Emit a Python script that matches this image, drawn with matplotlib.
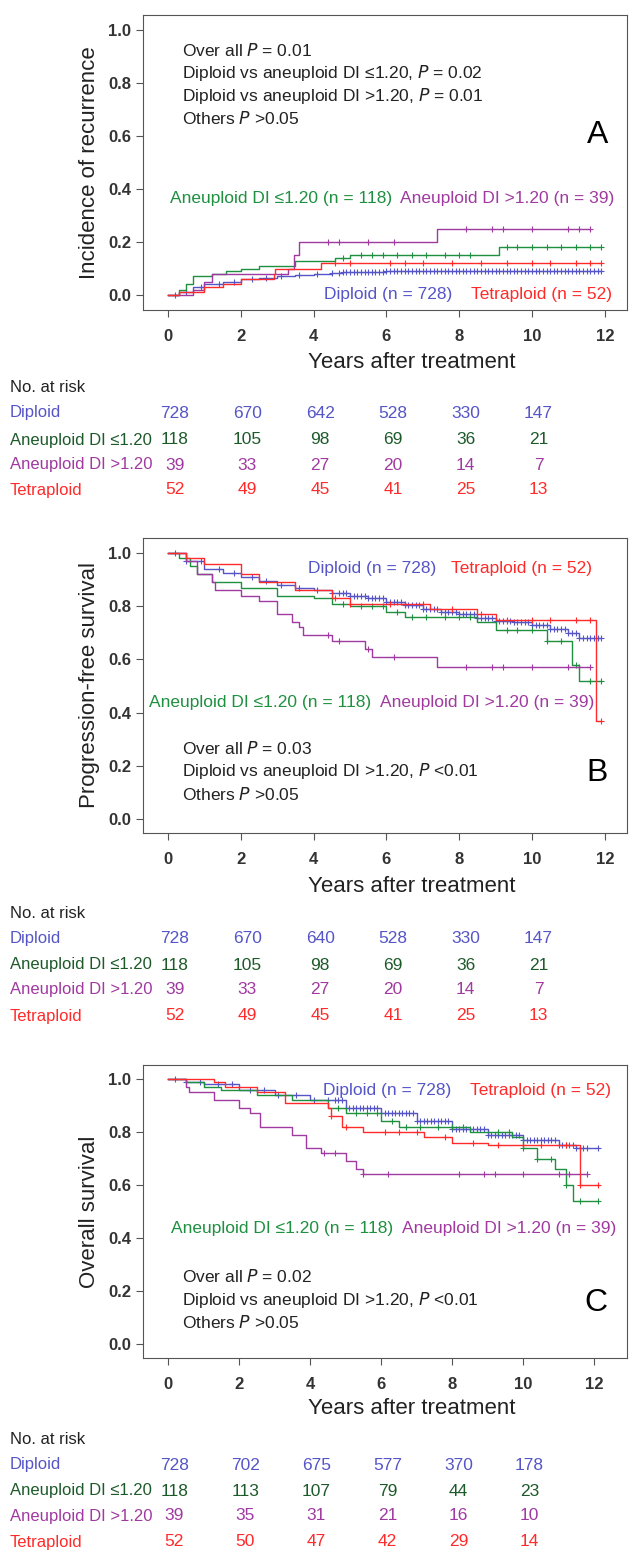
import numpy as np
import matplotlib
matplotlib.use('Agg')
import matplotlib.pyplot as plt
from matplotlib.transforms import blended_transform_factory

plt.rcParams['font.family'] = ['Liberation Sans', 'DejaVu Sans']

BLUE = '#5555c8'
GREEN = '#1e9040'
PURPLE = '#a03aa0'
RED = '#ff2a2a'
DGREEN = '#1d5a2a'

groups = ['Diploid', 'Aneuploid DI ≤1.20', 'Aneuploid DI >1.20', 'Tetraploid']
colors = [BLUE, GREEN, PURPLE, RED]
table_colors = [BLUE, DGREEN, PURPLE, RED]
risk_times = [0, 2, 4, 6, 8, 10]

# ---- Panel A: incidence of recurrence
a_dip_t = [0, 0.3, 0.7, 1.0, 1.5, 2.0, 2.5, 3.0, 3.5, 4.0, 4.5, 4.8, 6.0, 11.9]
a_dip_v = [0, 0.01, 0.03, 0.04, 0.05, 0.06, 0.065, 0.07, 0.075, 0.078, 0.082, 0.087, 0.09, 0.09]
a_ane1_t = [0, 0.3, 0.5, 0.7, 1.2, 1.6, 2.0, 2.5, 3.5, 4.6, 5.0, 9.1, 11.9]
a_ane1_v = [0, 0.02, 0.04, 0.07, 0.08, 0.09, 0.10, 0.11, 0.13, 0.14, 0.15, 0.18, 0.18]
a_ane2_t = [0, 0.7, 1.0, 1.2, 3.3, 3.45, 3.6, 7.4, 11.6]
a_ane2_v = [0, 0.02, 0.05, 0.08, 0.10, 0.15, 0.20, 0.25, 0.25]
a_tet_t = [0, 0.3, 1.0, 1.5, 2.0, 2.9, 2.95, 4.2, 11.9]
a_tet_v = [0, 0.01, 0.03, 0.04, 0.06, 0.08, 0.10, 0.12, 0.12]

# ---- Panel B: progression-free survival
b_dip_t = [0, 0.5, 1.0, 1.5, 2.0, 2.5, 3.0, 3.5, 4.0, 4.5, 5.0, 5.5, 6.0, 6.5, 7.0, 7.5, 8.0, 8.5, 9.0, 9.5, 10.0, 10.5, 11.0, 11.3, 11.9]
b_dip_v = [1.0, 0.97, 0.94, 0.925, 0.91, 0.895, 0.88, 0.87, 0.86, 0.85, 0.84, 0.83, 0.815, 0.805, 0.79, 0.78, 0.77, 0.755, 0.745, 0.74, 0.73, 0.715, 0.70, 0.68, 0.68]
b_ane1_t = [0, 0.3, 0.6, 0.8, 1.2, 2.0, 3.0, 4.0, 4.5, 5.0, 6.0, 6.5, 8.5, 9.0, 10.4, 11.1, 11.3, 11.9]
b_ane1_v = [1.0, 0.98, 0.95, 0.92, 0.89, 0.87, 0.84, 0.83, 0.81, 0.80, 0.78, 0.76, 0.74, 0.71, 0.67, 0.58, 0.52, 0.52]
b_ane2_t = [0, 0.5, 0.8, 1.2, 1.3, 2.0, 2.5, 3.0, 3.4, 3.6, 3.7, 4.5, 5.4, 5.6, 7.4, 11.6]
b_ane2_v = [1.0, 0.97, 0.92, 0.89, 0.86, 0.84, 0.82, 0.77, 0.74, 0.72, 0.69, 0.67, 0.64, 0.61, 0.57, 0.57]
b_tet_t = [0, 0.5, 1.0, 2.0, 2.5, 3.5, 4.5, 5.0, 7.2, 8.5, 9.0, 11.75, 11.9]
b_tet_v = [1.0, 0.98, 0.96, 0.92, 0.89, 0.86, 0.83, 0.81, 0.79, 0.77, 0.75, 0.37, 0.37]

# ---- Panel C: overall survival
c_dip_t = [0, 0.5, 1.0, 2.0, 3.0, 4.0, 5.0, 6.0, 7.0, 8.0, 9.0, 10.0, 11.0, 11.5, 12.1]
c_dip_v = [1.0, 0.99, 0.98, 0.96, 0.94, 0.92, 0.89, 0.87, 0.84, 0.81, 0.79, 0.77, 0.75, 0.74, 0.74]
c_ane1_t = [0, 0.5, 1.0, 1.5, 2.5, 3.5, 4.5, 5.0, 6.0, 6.5, 8.5, 9.7, 10.0, 10.4, 10.9, 11.2, 11.4, 12.1]
c_ane1_v = [1.0, 0.99, 0.97, 0.96, 0.94, 0.92, 0.89, 0.87, 0.84, 0.82, 0.80, 0.78, 0.74, 0.70, 0.66, 0.60, 0.54, 0.54]
c_ane2_t = [0, 0.5, 0.6, 1.3, 2.0, 2.3, 2.6, 3.5, 3.9, 4.3, 5.0, 5.3, 5.5, 11.8]
c_ane2_v = [1.0, 0.97, 0.95, 0.92, 0.89, 0.87, 0.82, 0.79, 0.74, 0.72, 0.69, 0.66, 0.64, 0.64]
c_tet_t = [0, 1.3, 1.6, 2.5, 3.3, 4.5, 4.6, 4.9, 5.5, 7.2, 8.0, 9.0, 11.6, 12.1]
c_tet_v = [1.0, 0.99, 0.97, 0.95, 0.91, 0.89, 0.86, 0.82, 0.80, 0.78, 0.76, 0.75, 0.60, 0.60]

# censor tick times per group
cens_dip = [0.2, 0.5, 0.9, 1.4, 1.8, 2.3, 2.7, 3.1, 3.6, 4.1, 4.5, 4.7, 4.8, 4.9, 5.0, 5.1, 5.2, 5.3, 5.4,
            5.5, 5.6, 5.7, 5.8, 5.9, 6.0, 6.1, 6.2, 6.3, 6.4, 6.5, 6.6, 6.7, 6.8, 6.9, 7.0, 7.1, 7.2, 7.3,
            7.4, 7.5, 7.6, 7.7, 7.8, 7.9, 8.0, 8.1, 8.2, 8.3, 8.4, 8.5, 8.6, 8.7, 8.8, 8.9, 9.0, 9.1, 9.2,
            9.3, 9.4, 9.5, 9.6, 9.7, 9.8, 9.9, 10.0, 10.1, 10.2, 10.3, 10.4, 10.5, 10.6, 10.7, 10.8, 10.9,
            11.0, 11.1, 11.2, 11.3, 11.4, 11.5, 11.6, 11.7, 11.8]
cens_ane1 = [4.8, 5.3, 5.6, 5.9, 6.3, 6.7, 7.1, 7.6, 8.0, 8.3, 9.3, 9.6, 10.0, 10.4, 10.8, 11.2, 11.6]
cens_ane2 = [4.4, 4.7, 5.5, 6.2, 8.2, 8.9, 9.2, 10.0, 11.0, 11.3]
cens_tet = [4.6, 5.0, 6.1, 6.5, 7.0, 7.8, 8.6, 9.3, 10.0, 10.5, 11.2, 11.6]

risk_a = [[728, 670, 642, 528, 330, 147], [118, 105, 98, 69, 36, 21], [39, 33, 27, 20, 14, 7], [52, 49, 45, 41, 25, 13]]
risk_b = [[728, 670, 640, 528, 330, 147], [118, 105, 98, 69, 36, 21], [39, 33, 27, 20, 14, 7], [52, 49, 45, 41, 25, 13]]
risk_c = [[728, 702, 675, 577, 370, 178], [118, 113, 107, 79, 44, 23], [39, 35, 31, 21, 16, 10], [52, 50, 47, 42, 29, 14]]

W, H = 629, 1552
fig = plt.figure(figsize=(W / 100, H / 100), dpi=100)


def step_value(t, v, x):
    idx = np.searchsorted(t, x, side='right') - 1
    return v[max(idx, 0)]


def panel(top, bottom, y1, y0, ppy, curves, ylabel, letter, letter_y, ptext, ptext_ys,
          lab_top, lab_bot, risk, rows_y, xl_y):
    left, right, x0 = 143, 627, 168
    ax = fig.add_axes([left / W, 1 - bottom / H, (right - left) / W, (bottom - top) / H])
    ppu = (y0 - y1)
    ax.set_ylim(-(bottom - y0) / ppu, 1 + (y1 - top) / ppu)
    ax.set_xlim((left - x0) / ppy, (right - x0) / ppy)
    for (t, v), c, cens in zip(curves, colors, [cens_dip, cens_ane1, cens_ane2, cens_tet]):
        ax.step(t, v, where='post', color=c, lw=1.0)
        ct = [x for x in cens if x < t[-1]] + [t[-1]]
        ax.plot(ct, [step_value(t, v, x) for x in ct], '+', color=c, ms=4, mew=0.8)
    ax.set_xticks(range(0, 13, 2))
    yt = np.arange(0, 1.01, 0.2)
    ax.set_yticks(yt)
    ax.set_yticklabels([f'{y:.1f}' for y in yt])
    ax.tick_params(labelsize=12, length=5, color='#555555')
    ax.tick_params(axis='x', pad=9)
    for s in ax.spines.values():
        s.set_color('#555555')
    ax.set_ylabel(ylabel, fontsize=16, color='#222222', labelpad=6)
    for lab in ax.get_xticklabels() + ax.get_yticklabels():
        lab.set_fontweight('bold')
        lab.set_color('#333333')

    def fy(py):
        return (bottom - py) / (bottom - top)

    def fx(px):
        return (px - left) / (right - left)

    ax.text(fx(608), fy(letter_y), letter, transform=ax.transAxes, fontsize=23, ha='right', va='center')
    for line, py in zip(ptext, ptext_ys):
        ax.text(fx(182), fy(py), line, transform=ax.transAxes, fontsize=12.5, color='#222222', va='center')
    (dip_end, tet_end, ty), (ane1_start, ane2_start, by) = lab_top, lab_bot
    ax.text(fx(dip_end), fy(ty), 'Diploid (n = 728)', color=BLUE,
            transform=ax.transAxes, ha='right', va='center', fontsize=12.5)
    ax.text(fx(tet_end), fy(ty), 'Tetraploid (n = 52)', color=RED,
            transform=ax.transAxes, ha='right', va='center', fontsize=12.5)
    ax.text(fx(ane1_start), fy(by), 'Aneuploid DI ≤1.20 (n = 118)', color=GREEN,
            transform=ax.transAxes, ha='left', va='center', fontsize=12.5)
    ax.text(fx(ane2_start), fy(by), 'Aneuploid DI >1.20 (n = 39)', color=PURPLE,
            transform=ax.transAxes, ha='left', va='center', fontsize=12.5)
    fig.text(412 / W, 1 - xl_y / H, 'Years after treatment', fontsize=16,
             ha='center', va='center', color='#222222')
    tr = blended_transform_factory(ax.transData, fig.transFigure)
    fig.text(10 / W, 1 - rows_y[0] / H, 'No. at risk', fontsize=12, va='center', color='#222222')
    for r, (g, c) in enumerate(zip(groups, table_colors)):
        y = 1 - rows_y[r + 1] / H
        fig.text(10 / W, y, g, fontsize=12, va='center', color=c)
        for t, n in zip(risk_times, risk[r]):
            fig.text(t + 0.18, y, str(n), transform=tr, fontsize=12.5, va='center', ha='center', color=c)
    return ax


panel(15, 310, 30, 295, 36.4,
      [(a_dip_t, a_dip_v), (a_ane1_t, a_ane1_v), (a_ane2_t, a_ane2_v), (a_tet_t, a_tet_v)],
      'Incidence of recurrence', 'A', 135,
      ['Over all $P$ = 0.01', 'Diploid vs aneuploid DI ≤1.20, $P$ = 0.02',
       'Diploid vs aneuploid DI >1.20, $P$ = 0.01', 'Others $P$ >0.05'],
      [51, 73, 96, 118], (452, 612, 294), (170, 400, 198), risk_a, [387, 413, 440, 465, 490], 362)

panel(538, 833, 553, 819, 36.4,
      [(b_dip_t, b_dip_v), (b_ane1_t, b_ane1_v), (b_ane2_t, b_ane2_v), (b_tet_t, b_tet_v)],
      'Progression-free survival', 'B', 773,
      ['Over all $P$ = 0.03', 'Diploid vs aneuploid DI >1.20, $P$ <0.01', 'Others $P$ >0.05'],
      [748, 771, 794], (436, 592, 568), (149, 380, 702), risk_b, [914, 939, 965, 990, 1016], 887)

panel(1065, 1358, 1079, 1344, 35.5,
      [(c_dip_t, c_dip_v), (c_ane1_t, c_ane1_v), (c_ane2_t, c_ane2_v), (c_tet_t, c_tet_v)],
      'Overall survival', 'C', 1303,
      ['Over all $P$ = 0.02', 'Diploid vs aneuploid DI >1.20, $P$ <0.01', 'Others $P$ >0.05'],
      [1277, 1300, 1323], (451, 611, 1090), (171, 402, 1228), risk_c, [1440, 1465, 1491, 1516, 1542], 1408)

plt.savefig('out.png', dpi=100)
